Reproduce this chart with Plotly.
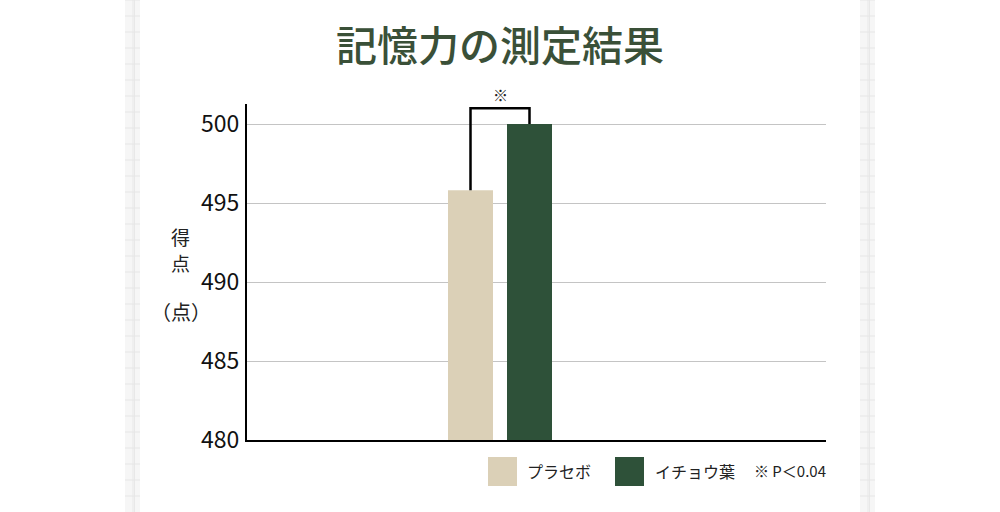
"""
Memory test score chart (placebo vs ginkgo leaf)
"""
import plotly.graph_objects as go

# data
groups = ["プラセボ", "イチョウ葉"]
scores = [495.8, 500.0]
colors = ["#dbd0b7", "#2e5139"]
y_ticks = [480, 485, 490, 495, 500]
title_text = "記憶力の測定結果"
y_title = "得点"
y_unit = "（点）"
sig_mark = "※"
sig_note = "※ P＜0.04"

FONT = "Noto Sans CJK JP"
W, H = 1000, 512
L, R, T, B = 247, 174, 104, 72
PW, PH = W - L - R, H - T - B


def px_x(px):
    """pixel -> paper x"""
    return (px - L) / PW


def px_y(py):
    """pixel -> paper y"""
    return 1 - (py - T) / PH


# bar geometry (x axis in units of 208 px, group centred at 0)
scale = 208.0
bar_w = 45 / scale
offsets = [-52 / scale, 7 / scale]

fig = go.Figure()
for name, val, col, off in zip(groups, scores, colors, offsets):
    fig.add_trace(go.Bar(
        x=[0], y=[val], base=0, name=name,
        width=[bar_w], offset=[off],
        marker=dict(color=col, line=dict(width=0)),
        showlegend=False, hoverinfo="skip",
    ))

# significance bracket between the two bars
centres = [off + bar_w / 2 for off in offsets]
top = max(scores) + 1.0
fig.add_shape(type="path", xref="x", yref="y",
              path=f"M {centres[0]},{scores[0]} L {centres[0]},{top} "
                   f"L {centres[1]},{top} L {centres[1]},{scores[1]}",
              line=dict(color="black", width=2.5), layer="above")
fig.add_annotation(x=sum(centres) / 2, y=top, yref="y", xref="x",
                   text=sig_mark, showarrow=False, yanchor="bottom", yshift=1,
                   font=dict(family=FONT, size=15, color="#222"))

# decorative grid-paper strips on both sides
for x0, x1 in [(125, 140), (860, 875)]:
    fig.add_shape(type="rect", xref="paper", yref="paper",
                  x0=px_x(x0), x1=px_x(x1), y0=px_y(H), y1=px_y(0),
                  fillcolor="#f6f6f6", line=dict(width=0), layer="below")
    for vx in (x0 + 8, x0 + 9.5):
        fig.add_shape(type="line", xref="paper", yref="paper",
                      x0=px_x(vx), x1=px_x(vx), y0=px_y(H), y1=px_y(0),
                      line=dict(color="#e8e8e8", width=1), layer="below")
    for hy in range(0, H, 16):
        fig.add_shape(type="line", xref="paper", yref="paper",
                      x0=px_x(x0), x1=px_x(x1), y0=px_y(hy), y1=px_y(hy),
                      line=dict(color="#e6e6e6", width=1), layer="below")

# hand-made legend below the plot
legend_items = [(488, 527, groups[0], colors[0]), (615, 655, groups[1], colors[1])]
for sx, tx, label, col in legend_items:
    fig.add_shape(type="rect", xref="paper", yref="paper",
                  x0=px_x(sx), x1=px_x(sx + 29), y0=px_y(486), y1=px_y(457),
                  fillcolor=col, line=dict(width=0))
    fig.add_annotation(x=px_x(tx - 2), y=px_y(471), xref="paper", yref="paper",
                       text=label, showarrow=False, xanchor="left", yanchor="middle",
                       font=dict(family=FONT, size=16, color="#222"))
fig.add_annotation(x=px_x(752), y=px_y(471), xref="paper", yref="paper",
                   text=sig_note, showarrow=False, xanchor="left", yanchor="middle",
                   font=dict(family=FONT, size=15, color="#222"))

# y axis title, one character per line, then the unit
for ch, cy in zip(y_title, (237, 262)):
    fig.add_annotation(x=px_x(180), y=px_y(cy), xref="paper", yref="paper",
                       text=ch, showarrow=False, borderpad=0,
                       xanchor="center", yanchor="middle",
                       font=dict(family=FONT, size=19, color="#222"))
fig.add_annotation(x=px_x(181), y=px_y(311), xref="paper", yref="paper",
                   text=y_unit, showarrow=False,
                   xanchor="center", yanchor="middle",
                   font=dict(family=FONT, size=20, color="#222"))

fig.update_layout(
    width=W, height=H,
    margin=dict(l=L, r=R, t=T, b=B),
    paper_bgcolor="white", plot_bgcolor="white",
    barmode="overlay",
    title=dict(text=title_text, x=px_x(500), xref="paper",
               y=1 - 47 / H, yanchor="middle", xanchor="center",
               font=dict(family=FONT, size=41, weight=500, color="#3a5038")),
    font=dict(family=FONT, color="#111"),
)
fig.update_xaxes(range=[-(500 - L) / scale, (W - R - 500) / scale],
                 showticklabels=False, ticks="", showgrid=False, zeroline=False,
                 showline=True, linecolor="black", linewidth=2, fixedrange=True)
fig.update_yaxes(range=[480, 480 + PH / 15.8], tickvals=y_ticks,
                 showgrid=True, gridcolor="#c4c4c4", gridwidth=1, zeroline=False,
                 showline=True, linecolor="black", linewidth=2, ticks="",
                 ticklabelstandoff=1, fixedrange=True,
                 tickfont=dict(family=FONT, size=23, color="#111"))

# page has a default body margin; remove it so the figure sits at 0,0
fig.write_html("out.html", config={"displayModeBar": False},
               post_script="document.body.style.margin='0';")
